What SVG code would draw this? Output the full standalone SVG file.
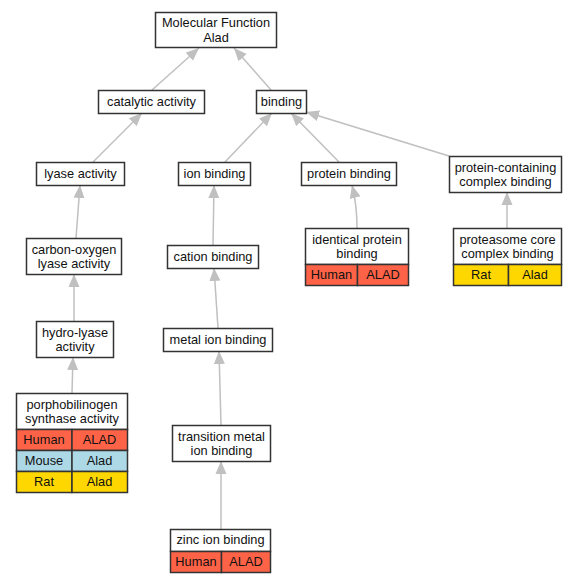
<svg xmlns="http://www.w3.org/2000/svg" width="577" height="584" viewBox="0 0 577 584">
<style>
.box{fill:#fff;stroke:#333;stroke-width:1.5}
.hu{fill:#ff6347;stroke:#333;stroke-width:1.5}
.mo{fill:#add8e6;stroke:#333;stroke-width:1.5}
.ra{fill:#ffd700;stroke:#333;stroke-width:1.5}
text{font-family:"Liberation Sans",Arial,sans-serif;font-size:12.8px;fill:#111;text-anchor:middle}
.e{fill:none;stroke:#c0c0c0;stroke-width:1.5;marker-end:url(#ah)}
</style>
<defs>
<marker id="ah" markerUnits="userSpaceOnUse" markerWidth="13" markerHeight="12" viewBox="0 0 13 11" refX="13" refY="5.5" orient="auto">
<path d="M0,0 L13,5.5 L0,11 Z" fill="#c0c0c0"/>
</marker>
</defs>
<rect width="577" height="584" fill="#fff"/>
<g id="connectors">
<path class="e" d="M152,90 L199,48"/>
<path class="e" d="M271,90 L234,48"/>
<path class="e" d="M93,162 L142,113"/>
<path class="e" d="M225,162 L272,113"/>
<path class="e" d="M339,162 L291,113"/>
<path class="e" d="M449,156 L306,112"/>
<path class="e" d="M76,238 L80,185"/>
<path class="e" d="M213,245 L214,185"/>
<path class="e" d="M357,228 Q357,205 352,185"/>
<path class="e" d="M507,228 L507,192"/>
<path class="e" d="M74,321 L74,274"/>
<path class="e" d="M218,328 L214,268"/>
<path class="e" d="M72,393 L73,357"/>
<path class="e" d="M221,425 L219,351"/>
<path class="e" d="M221,529 L221,461"/>
</g>
<g id="mf"><rect class="box" x="155.5" y="12.5" width="121" height="35"/><text x="216" y="27.2">Molecular Function</text><text x="216" y="41.7">Alad</text></g>
<g id="catalytic"><rect class="box" x="98.5" y="90.5" width="106" height="23"/><text x="151.5" y="106">catalytic activity</text></g>
<g id="binding"><rect class="box" x="256.5" y="90.5" width="50" height="23"/><text x="281.5" y="106">binding</text></g>
<g id="lyase"><rect class="box" x="36.5" y="162.5" width="88" height="23"/><text x="80.5" y="178">lyase activity</text></g>
<g id="ion"><rect class="box" x="178.5" y="162.5" width="72" height="23"/><text x="214.5" y="178">ion binding</text></g>
<g id="protein"><rect class="box" x="301.5" y="162.5" width="95" height="23"/><text x="349" y="178">protein binding</text></g>
<g id="pcb"><rect class="box" x="449.5" y="156.5" width="112" height="36"/><text x="505.5" y="171.7">protein-containing</text><text x="505.5" y="186.2">complex binding</text></g>
<g id="colyase"><rect class="box" x="26.5" y="238.5" width="95" height="36"/><text x="74" y="253.7">carbon-oxygen</text><text x="74" y="268.2">lyase activity</text></g>
<g id="cation"><rect class="box" x="167.5" y="245.5" width="91" height="23"/><text x="213" y="261">cation binding</text></g>
<g id="hydro"><rect class="box" x="36.5" y="321.5" width="77" height="36"/><text x="75" y="336.7">hydro-lyase</text><text x="75" y="351.2">activity</text></g>
<g id="metal"><rect class="box" x="163.5" y="328.5" width="109" height="23"/><text x="218" y="344">metal ion binding</text></g>
<g id="porpho"><rect class="box" x="16.5" y="393.5" width="111" height="36"/><text x="72" y="408.7">porphobilinogen</text><text x="72" y="423.2">synthase activity</text>
<rect class="hu" x="16.5" y="429.5" width="55.5" height="21"/><rect class="hu" x="72" y="429.5" width="55.5" height="21"/><text x="44" y="444">Human</text><text x="99.5" y="444">ALAD</text>
<rect class="mo" x="16.5" y="450.5" width="55.5" height="21"/><rect class="mo" x="72" y="450.5" width="55.5" height="21"/><text x="44" y="465">Mouse</text><text x="99.5" y="465">Alad</text>
<rect class="ra" x="16.5" y="471.5" width="55.5" height="21"/><rect class="ra" x="72" y="471.5" width="55.5" height="21"/><text x="44" y="486">Rat</text><text x="99.5" y="486">Alad</text></g>
<g id="transition"><rect class="box" x="172.5" y="425.5" width="98" height="36"/><text x="221.5" y="440.7">transition metal</text><text x="221.5" y="455.2">ion binding</text></g>
<g id="zinc"><rect class="box" x="170.5" y="529.5" width="100" height="22"/><text x="220.5" y="544">zinc ion binding</text>
<rect class="hu" x="170.5" y="551.5" width="51" height="21"/><rect class="hu" x="221.5" y="551.5" width="49" height="21"/><text x="196" y="566">Human</text><text x="246" y="566">ALAD</text></g>
<g id="identical"><rect class="box" x="305.5" y="228.5" width="103" height="36"/><text x="357" y="243.7">identical protein</text><text x="357" y="258.2">binding</text>
<rect class="hu" x="305.5" y="264.5" width="52" height="21"/><rect class="hu" x="357.5" y="264.5" width="51" height="21"/><text x="331.5" y="279">Human</text><text x="383" y="279">ALAD</text></g>
<g id="proteasome"><rect class="box" x="453.5" y="228.5" width="108" height="36"/><text x="507.5" y="243.7">proteasome core</text><text x="507.5" y="258.2">complex binding</text>
<rect class="ra" x="453.5" y="264.5" width="55" height="21"/><rect class="ra" x="508.5" y="264.5" width="53" height="21"/><text x="481" y="279">Rat</text><text x="535" y="279">Alad</text></g>
</svg>
